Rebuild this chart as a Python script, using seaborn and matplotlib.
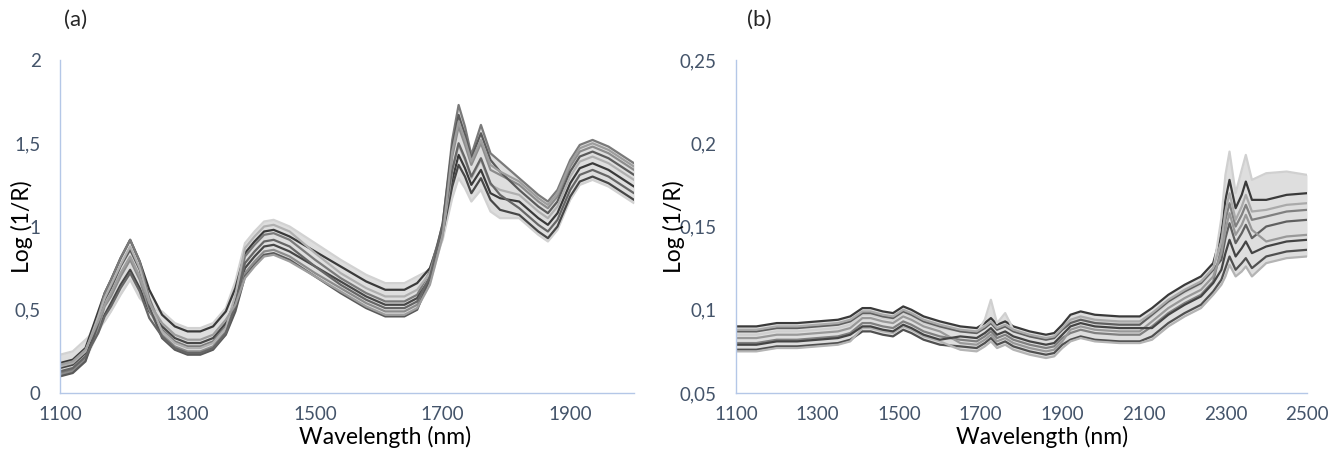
import matplotlib
matplotlib.use("Agg")
import matplotlib.pyplot as plt
import numpy as np
import pandas as pd
import seaborn as sns
from matplotlib.ticker import FuncFormatter

# ---- panel (a): raw spectra, wavelength 1100-2000 nm ----
wl_a = [1100, 1120, 1140, 1160, 1170, 1180, 1195, 1210, 1225, 1240, 1260, 1280, 1300, 1320, 1340, 1360,
        1375, 1390, 1405, 1420, 1435, 1460, 1500, 1540, 1580, 1610, 1640, 1660, 1680, 1700, 1715, 1725,
        1735, 1745, 1760, 1775, 1790, 1820, 1850, 1865, 1880, 1900, 1915, 1935, 1960, 1980, 2000]

a1 = [0.23, 0.25, 0.32, 0.39, 0.43, 0.49, 0.59, 0.68, 0.57, 0.51, 0.49, 0.42, 0.39, 0.39, 0.42, 0.51,
      0.67, 0.90, 0.97, 1.03, 1.04, 1.00, 0.90, 0.80, 0.71, 0.66, 0.66, 0.70, 0.74, 0.92, 1.17, 1.29,
      1.23, 1.15, 1.22, 1.09, 1.05, 1.05, 0.95, 0.91, 0.98, 1.16, 1.25, 1.28, 1.24, 1.19, 1.14]
a2 = [0.18, 0.20, 0.27, 0.49, 0.60, 0.68, 0.81, 0.92, 0.79, 0.62, 0.47, 0.40, 0.37, 0.37, 0.40, 0.49,
      0.63, 0.84, 0.91, 0.97, 0.98, 0.94, 0.85, 0.76, 0.67, 0.62, 0.62, 0.66, 0.75, 0.98, 1.28, 1.43,
      1.35, 1.25, 1.34, 1.20, 1.17, 1.15, 1.05, 1.01, 1.08, 1.26, 1.35, 1.38, 1.34, 1.29, 1.24]
a3 = [0.12, 0.14, 0.21, 0.46, 0.60, 0.68, 0.81, 0.92, 0.79, 0.57, 0.38, 0.31, 0.28, 0.28, 0.31, 0.40,
      0.57, 0.82, 0.89, 0.95, 0.96, 0.92, 0.80, 0.69, 0.60, 0.55, 0.55, 0.59, 0.73, 1.01, 1.52, 1.73,
      1.60, 1.43, 1.61, 1.44, 1.39, 1.29, 1.19, 1.15, 1.22, 1.40, 1.49, 1.52, 1.48, 1.43, 1.38]
a4 = [0.15, 0.17, 0.24, 0.38, 0.47, 0.54, 0.65, 0.74, 0.63, 0.49, 0.40, 0.33, 0.30, 0.30, 0.33, 0.42,
      0.55, 0.75, 0.82, 0.88, 0.89, 0.85, 0.76, 0.67, 0.58, 0.53, 0.53, 0.57, 0.69, 0.96, 1.24, 1.37,
      1.30, 1.20, 1.29, 1.16, 1.10, 1.07, 0.97, 0.93, 1.00, 1.18, 1.27, 1.30, 1.26, 1.21, 1.16]
a5 = [0.11, 0.13, 0.20, 0.39, 0.52, 0.58, 0.70, 0.80, 0.68, 0.50, 0.35, 0.28, 0.25, 0.25, 0.28, 0.37,
      0.51, 0.72, 0.79, 0.85, 0.86, 0.82, 0.72, 0.63, 0.54, 0.49, 0.49, 0.53, 0.68, 0.98, 1.42, 1.60,
      1.49, 1.37, 1.50, 1.34, 1.31, 1.25, 1.15, 1.11, 1.18, 1.36, 1.45, 1.48, 1.44, 1.39, 1.34]
a6 = [0.10, 0.12, 0.19, 0.42, 0.56, 0.63, 0.76, 0.86, 0.74, 0.52, 0.33, 0.26, 0.23, 0.23, 0.26, 0.35,
      0.49, 0.70, 0.77, 0.83, 0.84, 0.80, 0.70, 0.60, 0.51, 0.46, 0.46, 0.50, 0.69, 1.02, 1.48, 1.67,
      1.55, 1.41, 1.56, 1.40, 1.33, 1.22, 1.12, 1.08, 1.15, 1.33, 1.42, 1.45, 1.41, 1.36, 1.31]
a7 = [0.16, 0.18, 0.25, 0.46, 0.57, 0.65, 0.77, 0.88, 0.75, 0.55, 0.37, 0.30, 0.27, 0.27, 0.30, 0.39,
      0.59, 0.87, 0.94, 1.00, 1.01, 0.97, 0.84, 0.72, 0.63, 0.58, 0.58, 0.62, 0.72, 0.96, 1.33, 1.49,
      1.40, 1.29, 1.40, 1.25, 1.22, 1.19, 1.09, 1.05, 1.12, 1.30, 1.39, 1.42, 1.38, 1.33, 1.28]
a8 = [0.13, 0.15, 0.22, 0.36, 0.46, 0.52, 0.63, 0.72, 0.61, 0.45, 0.34, 0.27, 0.24, 0.24, 0.27, 0.36,
      0.53, 0.78, 0.85, 0.91, 0.92, 0.88, 0.76, 0.65, 0.56, 0.51, 0.51, 0.55, 0.70, 1.00, 1.34, 1.50,
      1.41, 1.30, 1.41, 1.26, 1.19, 1.11, 1.01, 0.97, 1.04, 1.22, 1.31, 1.34, 1.30, 1.25, 1.20]
a9 = [0.17, 0.19, 0.26, 0.43, 0.53, 0.60, 0.72, 0.82, 0.70, 0.54, 0.42, 0.35, 0.32, 0.32, 0.35, 0.44,
      0.53, 0.69, 0.76, 0.82, 0.83, 0.79, 0.70, 0.61, 0.52, 0.47, 0.47, 0.51, 0.65, 0.94, 1.45, 1.63,
      1.52, 1.39, 1.52, 1.37, 1.33, 1.27, 1.17, 1.13, 1.20, 1.38, 1.47, 1.50, 1.46, 1.41, 1.36]

# ---- panel (b): pretreated spectra, wavelength 1100-2500 nm ----
wl_b = [1100, 1150, 1200, 1250, 1300, 1350, 1380, 1410, 1430, 1460, 1485, 1510, 1530, 1560, 1600, 1650,
        1690, 1710, 1725, 1740, 1760, 1780, 1820, 1860, 1880, 1900, 1920, 1945, 1980, 2040, 2090, 2120,
        2160, 2200, 2240, 2270, 2290, 2300, 2310, 2325, 2340, 2350, 2365, 2400, 2450, 2500]

b1 = [0.090, 0.090, 0.092, 0.092, 0.093, 0.094, 0.096, 0.101, 0.101, 0.099, 0.098, 0.102, 0.100, 0.096,
      0.093, 0.090, 0.089, 0.092, 0.095, 0.091, 0.093, 0.090, 0.087, 0.085, 0.086, 0.091, 0.097, 0.099,
      0.097, 0.096, 0.096, 0.101, 0.109, 0.115, 0.120, 0.128, 0.146, 0.166, 0.178, 0.161, 0.169, 0.177,
      0.166, 0.166, 0.169, 0.170]
b2 = [0.085, 0.085, 0.087, 0.087, 0.088, 0.089, 0.091, 0.097, 0.097, 0.095, 0.094, 0.098, 0.096, 0.092,
      0.089, 0.087, 0.086, 0.094, 0.106, 0.092, 0.098, 0.088, 0.084, 0.082, 0.083, 0.088, 0.093, 0.095,
      0.093, 0.092, 0.092, 0.096, 0.104, 0.110, 0.115, 0.123, 0.155, 0.181, 0.195, 0.170, 0.184, 0.193,
      0.178, 0.182, 0.183, 0.181]
b3 = [0.080, 0.080, 0.082, 0.082, 0.083, 0.084, 0.086, 0.092, 0.092, 0.090, 0.089, 0.093, 0.091, 0.087,
      0.084, 0.082, 0.081, 0.084, 0.087, 0.083, 0.085, 0.082, 0.079, 0.077, 0.078, 0.083, 0.086, 0.088,
      0.086, 0.085, 0.085, 0.090, 0.098, 0.104, 0.109, 0.117, 0.137, 0.154, 0.164, 0.150, 0.157, 0.163,
      0.154, 0.156, 0.159, 0.160]
b4 = [0.076, 0.076, 0.078, 0.078, 0.079, 0.080, 0.082, 0.087, 0.087, 0.085, 0.084, 0.088, 0.086, 0.082,
      0.079, 0.078, 0.077, 0.080, 0.083, 0.079, 0.081, 0.078, 0.075, 0.073, 0.074, 0.079, 0.082, 0.084,
      0.082, 0.081, 0.081, 0.084, 0.092, 0.098, 0.103, 0.111, 0.118, 0.125, 0.132, 0.124, 0.128, 0.131,
      0.125, 0.132, 0.135, 0.136]
b5 = [0.075, 0.075, 0.077, 0.077, 0.078, 0.079, 0.081, 0.089, 0.089, 0.087, 0.086, 0.090, 0.088, 0.084,
      0.081, 0.076, 0.075, 0.078, 0.081, 0.077, 0.079, 0.076, 0.073, 0.071, 0.072, 0.077, 0.081, 0.083,
      0.081, 0.080, 0.080, 0.082, 0.090, 0.096, 0.101, 0.109, 0.115, 0.120, 0.127, 0.120, 0.123, 0.126,
      0.120, 0.128, 0.131, 0.132]
b6 = [0.087, 0.087, 0.089, 0.089, 0.090, 0.091, 0.093, 0.098, 0.098, 0.096, 0.095, 0.099, 0.097, 0.093,
      0.090, 0.087, 0.086, 0.089, 0.092, 0.088, 0.090, 0.087, 0.084, 0.082, 0.083, 0.088, 0.092, 0.094,
      0.092, 0.091, 0.091, 0.097, 0.105, 0.111, 0.116, 0.124, 0.130, 0.143, 0.152, 0.140, 0.146, 0.151,
      0.143, 0.150, 0.153, 0.154]
b7 = [0.083, 0.083, 0.085, 0.085, 0.086, 0.087, 0.089, 0.095, 0.095, 0.093, 0.092, 0.096, 0.094, 0.090,
      0.087, 0.080, 0.079, 0.082, 0.085, 0.081, 0.083, 0.080, 0.077, 0.075, 0.076, 0.081, 0.088, 0.090,
      0.088, 0.087, 0.087, 0.093, 0.101, 0.107, 0.112, 0.120, 0.134, 0.148, 0.158, 0.145, 0.151, 0.157,
      0.148, 0.141, 0.144, 0.145]
b8 = [0.079, 0.079, 0.081, 0.081, 0.082, 0.083, 0.085, 0.090, 0.090, 0.088, 0.087, 0.091, 0.089, 0.085,
      0.082, 0.084, 0.083, 0.086, 0.089, 0.085, 0.087, 0.084, 0.081, 0.079, 0.080, 0.085, 0.090, 0.092,
      0.090, 0.089, 0.089, 0.089, 0.097, 0.103, 0.108, 0.116, 0.124, 0.134, 0.142, 0.132, 0.137, 0.141,
      0.134, 0.138, 0.141, 0.142]
b9 = [0.088, 0.088, 0.090, 0.090, 0.091, 0.092, 0.094, 0.099, 0.099, 0.097, 0.096, 0.100, 0.098, 0.094,
      0.091, 0.088, 0.087, 0.090, 0.093, 0.089, 0.091, 0.088, 0.085, 0.083, 0.084, 0.089, 0.094, 0.096,
      0.094, 0.093, 0.093, 0.098, 0.106, 0.112, 0.117, 0.125, 0.141, 0.159, 0.170, 0.154, 0.162, 0.169,
      0.159, 0.160, 0.163, 0.164]

yticks_a = [0, 0.5, 1, 1.5, 2]
yticks_b = [0.05, 0.1, 0.15, 0.2, 0.25]
xticks_a = [1100, 1300, 1500, 1700, 1900]
xticks_b = [1100, 1300, 1500, 1700, 1900, 2100, 2300, 2500]

greys = ["#d2d2d2", "#3a3a3a", "#7a7a7a", "#474747", "#8c8c8c", "#5a5a5a", "#b0b0b0", "#666666", "#9e9e9e"]
greys_b = ["#3a3a3a", "#d0d0d0", "#808080", "#505050", "#b4b4b4", "#606060", "#999999", "#444444", "#aaaaaa"]


def long_df(wl, curves):
    rows = []
    for i, c in enumerate(curves):
        rows.append(pd.DataFrame({"wl": wl, "val": c, "spec": f"s{i}"}))
    return pd.concat(rows, ignore_index=True)


curves_a = [a1, a2, a3, a4, a5, a6, a7, a8, a9]
curves_b = [b1, b2, b3, b4, b5, b6, b7, b8, b9]
df_a = long_df(wl_a, curves_a)
df_b = long_df(wl_b, curves_b)

sns.set_style("white")
plt.rcParams["font.family"] = ["Lato", "DejaVu Sans"]

fig = plt.figure(figsize=(13.4, 4.5), dpi=100)
ax_a = fig.add_axes([60 / 1340, 57 / 450, 574 / 1340, 333 / 450])
ax_b = fig.add_axes([736 / 1340, 57 / 450, 571 / 1340, 333 / 450])

comma = FuncFormatter(lambda v, p: f"{v:g}".replace(".", ","))

panels = [
    (ax_a, df_a, wl_a, curves_a, greys, (1100, 2000), (0, 2), xticks_a, yticks_a, -0.047, 0.566),
    (ax_b, df_b, wl_b, curves_b, greys_b, (1100, 2500), (0.05, 0.25), xticks_b, yticks_b, -0.089, 0.536),
]
for ax, df, wl, curves, pal, xl, yl, xt, yt, ylab_x, xlab_x in panels:
    # light band behind the individual spectra
    arr = np.array(curves)
    ax.fill_between(wl, arr.min(axis=0), arr.max(axis=0), color="#c4c4c4", alpha=0.55, lw=0)
    palette = {f"s{i}": col for i, col in enumerate(pal)}
    sns.lineplot(data=df, x="wl", y="val", hue="spec", palette=palette, estimator=None,
                 linewidth=1.6, legend=False, ax=ax)
    ax.set_xlim(*xl)
    ax.set_ylim(*yl)
    ax.set_xticks(xt)
    ax.set_yticks(yt)
    ax.yaxis.set_major_formatter(comma)
    ax.tick_params(axis="both", length=0, labelsize=13.5, labelcolor="#44546A")
    ax.tick_params(axis="y", pad=14)
    ax.tick_params(axis="x", pad=9)
    for s in ["top", "right"]:
        ax.spines[s].set_visible(False)
    for s in ["left", "bottom"]:
        ax.spines[s].set_color("#B4C7E7")
        ax.spines[s].set_linewidth(1.0)
    ax.set_xlabel("Wavelength (nm)", fontsize=16.5, color="black")
    ax.set_ylabel("Log (1/R)", fontsize=16.5, color="black")
    ax.xaxis.set_label_coords(xlab_x, -0.10)
    ax.yaxis.set_label_coords(ylab_x, 0.5)

fig.text(64 / 1340, 1 - 20 / 450, "(a)", fontsize=16, va="center", ha="left")
fig.text(747 / 1340, 1 - 20 / 450, "(b)", fontsize=16, va="center", ha="left")

fig.savefig("out.png", dpi=100)
